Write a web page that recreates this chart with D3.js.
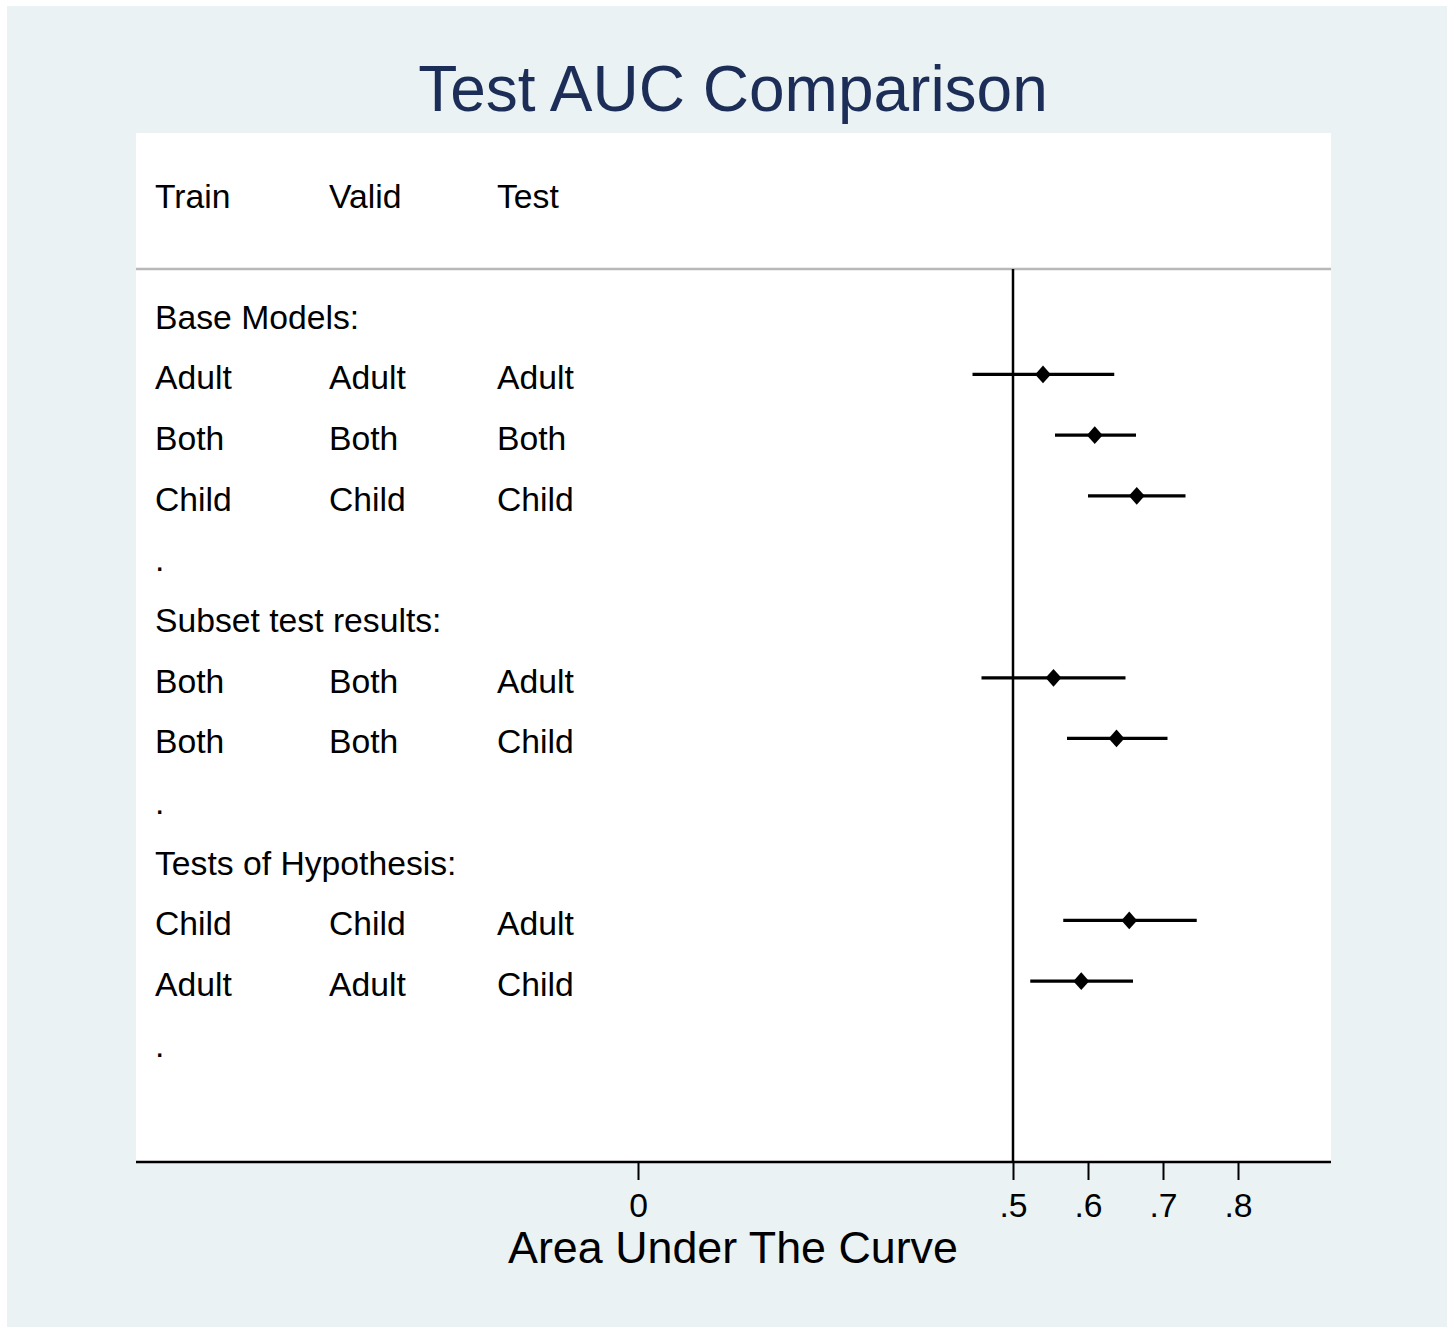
<!DOCTYPE html>
<html>
<head>
<meta charset="utf-8">
<script src="https://cdn.jsdelivr.net/npm/d3@7"></script>
<style>
  html, body { margin: 0; padding: 0; background: #fff; }
  text { font-family: Helvetica, "Liberation Sans", Arial, sans-serif; }
</style>
</head>
<body>
<svg id="chart" width="1453" height="1327"></svg>
<script>
// column headers
var headers = ["Train", "Valid", "Test"];

// rows, top to bottom (group headings and "." spacer rows have no estimate)
var train = ["Base Models:", "Adult", "Both", "Child", ".", "Subset test results:", "Both", "Both", ".", "Tests of Hypothesis:", "Child", "Adult", "."];
var valid = ["", "Adult", "Both", "Child", "", "", "Both", "Both", "", "", "Child", "Adult", ""];
var test  = ["", "Adult", "Both", "Child", "", "", "Adult", "Child", "", "", "Adult", "Child", ""];

var auc   = [null, 0.540, 0.609, 0.665, null, null, 0.554, 0.638, null, null, 0.655, 0.591, null];
var lower = [null, 0.446, 0.556, 0.600, null, null, 0.458, 0.572, null, null, 0.567, 0.523, null];
var upper = [null, 0.635, 0.664, 0.730, null, null, 0.650, 0.706, null, null, 0.745, 0.660, null];

var ticks = [0, 0.5, 0.6, 0.7, 0.8];
var nullLine = 0.5;

var svg = d3.select("#chart");

var plot = {left: 136, right: 1331, top: 133, bottom: 1162, header: 269};
var colX = [155, 329, 497];
var fs = 33.7;

var x = d3.scaleLinear().domain([0, 0.8]).range([638, 1238]);
var y = d3.scaleLinear().domain([0, 12]).range([313.8, 1041.8]);

var rows = train.map(function(t, i) {
  return {i: i, cells: [t, valid[i], test[i]], est: auc[i], lo: lower[i], hi: upper[i]};
});

// backgrounds
svg.append("rect").attr("x", 7).attr("y", 6).attr("width", 1440).attr("height", 1321)
  .attr("fill", "#eaf2f3");
svg.append("rect").attr("x", plot.left).attr("y", plot.top)
  .attr("width", plot.right - plot.left).attr("height", plot.bottom - plot.top)
  .attr("fill", "#fff");

// title
svg.append("text").attr("x", 733).attr("y", 111).attr("text-anchor", "middle")
  .attr("font-size", 64).attr("fill", "#1c2d57").text("Test AUC Comparison");

// header row
svg.append("g").selectAll("text").data(headers).enter().append("text")
  .attr("x", function(d, i) { return colX[i]; })
  .attr("y", 208)
  .attr("font-size", fs).attr("fill", "#000")
  .text(function(d) { return d; });

svg.append("line").attr("x1", plot.left).attr("x2", plot.right)
  .attr("y1", plot.header).attr("y2", plot.header)
  .attr("stroke", "#b8b8b8").attr("stroke-width", 2.5);

// row labels
var rowG = svg.append("g").selectAll("g").data(rows).enter().append("g");
rowG.selectAll("text")
  .data(function(d) { return d.cells.map(function(c, k) { return {text: c, k: k, i: d.i}; }); })
  .enter().append("text")
  .attr("x", function(d) { return colX[d.k]; })
  .attr("y", function(d) { return y(d.i) + 15; })
  .attr("font-size", fs).attr("fill", "#000")
  .text(function(d) { return d.text; });

// null line
svg.append("line").attr("x1", x(nullLine)).attr("x2", x(nullLine))
  .attr("y1", plot.header).attr("y2", plot.bottom)
  .attr("stroke", "#000").attr("stroke-width", 2.5);

var est = rows.filter(function(d) { return d.est != null; });

// confidence intervals
svg.append("g").selectAll("line").data(est).enter().append("line")
  .attr("x1", function(d) { return x(d.lo); })
  .attr("x2", function(d) { return x(d.hi); })
  .attr("y1", function(d) { return y(d.i); })
  .attr("y2", function(d) { return y(d.i); })
  .attr("stroke", "#000").attr("stroke-width", 3.3);

// diamond markers
var diamond = {
  draw: function(ctx, size) {
    var w = Math.sqrt(size) / 2, h = w * 1.12;
    ctx.moveTo(0, -h); ctx.lineTo(w, 0); ctx.lineTo(0, h); ctx.lineTo(-w, 0); ctx.closePath();
  }
};
svg.append("g").selectAll("path").data(est).enter().append("path")
  .attr("d", d3.symbol().type(diamond).size(250))
  .attr("transform", function(d) { return "translate(" + x(d.est) + "," + y(d.i) + ")"; })
  .attr("fill", "#000");

// x axis
var axis = d3.axisBottom(x)
  .tickValues(ticks)
  .tickFormat(function(d) { return d === 0 ? "0" : d3.format(".1f")(d).replace(/^0/, ""); })
  .tickSize(18).tickPadding(13);

var ax = svg.append("g").attr("transform", "translate(0," + plot.bottom + ")").call(axis);
ax.select(".domain").remove();
ax.selectAll(".tick line").attr("stroke", "#000").attr("stroke-width", 2);
ax.selectAll(".tick text").attr("font-size", fs).attr("fill", "#000")
  .attr("font-family", "Helvetica, 'Liberation Sans', Arial, sans-serif");

svg.append("line").attr("x1", plot.left).attr("x2", plot.right)
  .attr("y1", plot.bottom).attr("y2", plot.bottom)
  .attr("stroke", "#000").attr("stroke-width", 2.5);

svg.append("text").attr("x", 733).attr("y", 1263).attr("text-anchor", "middle")
  .attr("font-size", 44.8).attr("fill", "#000").text("Area Under The Curve");
</script>
</body>
</html>
